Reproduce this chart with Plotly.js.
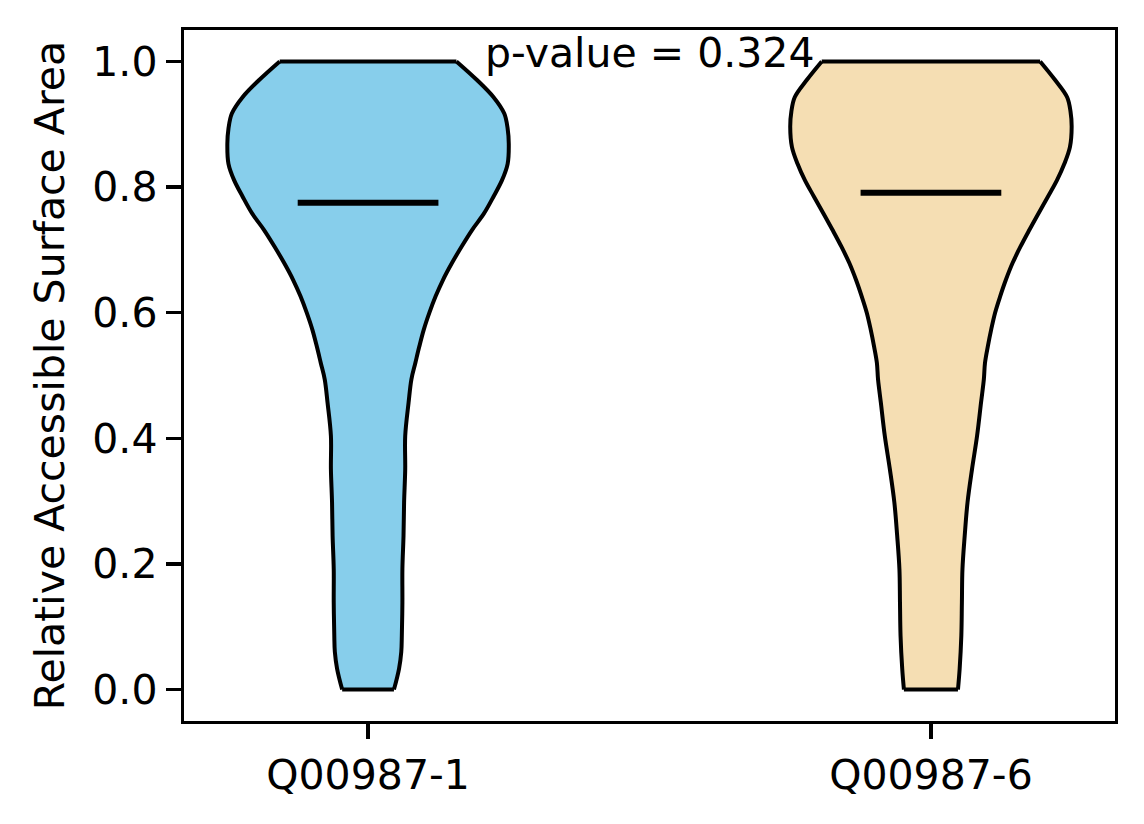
<!DOCTYPE html>
<html>
<head>
<meta charset="utf-8">
<script src="https://cdn.plot.ly/plotly-3.0.1.min.js"></script>
<style>html,body{margin:0;padding:0;background:#fff;}#chart{width:1144px;height:824px;}</style>
</head>
<body>
<div id="chart"></div>
<script>
// Categories and tick labels
const categories = ["Q00987-1", "Q00987-6"];
const positions = [1, 2];

// Violin density profiles (half-width in x-axis units at each y level)
const yLevels1 = [0.0, 0.033, 0.060, 0.086, 0.139, 0.192, 0.245, 0.298, 0.351, 0.404, 0.457, 0.494, 0.520, 0.546, 0.573, 0.600, 0.626, 0.652, 0.679, 0.705, 0.732, 0.758, 0.785, 0.811, 0.837, 0.869, 0.893, 0.917, 0.943, 0.970, 1.0];
const halfWidth1 = [0.046, 0.055, 0.059, 0.060, 0.061, 0.061, 0.063, 0.064, 0.066, 0.066, 0.072, 0.077, 0.084, 0.091, 0.099, 0.109, 0.120, 0.133, 0.149, 0.166, 0.185, 0.206, 0.223, 0.238, 0.248, 0.250, 0.248, 0.242, 0.223, 0.194, 0.157];

const yLevels2 = [0.0, 0.033, 0.086, 0.139, 0.192, 0.245, 0.298, 0.351, 0.404, 0.457, 0.494, 0.520, 0.546, 0.573, 0.600, 0.626, 0.652, 0.679, 0.705, 0.732, 0.758, 0.785, 0.811, 0.837, 0.864, 0.896, 0.920, 0.943, 0.970, 1.0];
const halfWidth2 = [0.048, 0.051, 0.054, 0.055, 0.056, 0.060, 0.065, 0.073, 0.082, 0.089, 0.094, 0.096, 0.101, 0.107, 0.114, 0.123, 0.133, 0.145, 0.159, 0.175, 0.191, 0.208, 0.224, 0.237, 0.247, 0.250, 0.248, 0.242, 0.221, 0.194];

// Medians
const medians = [0.775, 0.791];

// Annotation
const pValueText = "p-value = 0.324";

const profiles = [
  {y: yLevels1, hw: halfWidth1},
  {y: yLevels2, hw: halfWidth2}
];
const fills = ["#87CEEB", "#F5DEB3"];
const medianHalfSpan = 0.125;

const traces = [];
profiles.forEach((p, i) => {
  const c = positions[i];
  const n = p.y.length;
  // closed body fill
  const xs = [], ys = [];
  for (let k = 0; k < n; k++) { xs.push(c + p.hw[k]); ys.push(p.y[k]); }
  for (let k = n - 1; k >= 0; k--) { xs.push(c - p.hw[k]); ys.push(p.y[k]); }
  xs.push(xs[0]); ys.push(ys[0]);
  traces.push({
    type: "scatter", mode: "lines", x: xs, y: ys,
    fill: "toself", fillcolor: fills[i],
    line: {color: "rgba(0,0,0,0)", width: 0},
    hoverinfo: "skip", showlegend: false
  });
  // right and left outlines (smooth)
  const rx = [], ry = [], lx = [], ly = [];
  for (let k = 0; k < n; k++) {
    rx.push(c + p.hw[k]); ry.push(p.y[k]);
    lx.push(c - p.hw[k]); ly.push(p.y[k]);
  }
  [[rx, ry], [lx, ly]].forEach(([ax, ay]) => traces.push({
    type: "scatter", mode: "lines", x: ax, y: ay,
    line: {color: "black", width: 4, shape: "spline", smoothing: 1},
    hoverinfo: "skip", showlegend: false
  }));
  // flat top and bottom edges
  [0, n - 1].forEach(k => traces.push({
    type: "scatter", mode: "lines",
    x: [c - p.hw[k], c + p.hw[k]], y: [p.y[k], p.y[k]],
    line: {color: "black", width: 4},
    hoverinfo: "skip", showlegend: false
  }));
});
medians.forEach((m, i) => {
  traces.push({
    type: "scatter", mode: "lines",
    x: [positions[i] - medianHalfSpan, positions[i] + medianHalfSpan],
    y: [m, m],
    line: {color: "black", width: 6},
    hoverinfo: "skip", showlegend: false
  });
});

const font = {family: "DejaVu Sans, sans-serif", size: 41, color: "black"};
const layout = {
  width: 1144, height: 824,
  margin: {l: 184, r: 29, t: 30, b: 103, pad: 0},
  paper_bgcolor: "white", plot_bgcolor: "white",
  font: font,
  showlegend: false,
  xaxis: {
    range: [0.673, 2.327],
    tickmode: "array", tickvals: positions, ticktext: categories,
    showgrid: false, zeroline: false,
    showline: true, linecolor: "black", linewidth: 3.3, mirror: true,
    ticks: "outside", ticklen: 15, tickwidth: 3.3, tickcolor: "black",
    tickfont: font
  },
  yaxis: {
    range: [-0.05, 1.05],
    tickmode: "array", tickvals: [0, 0.2, 0.4, 0.6, 0.8, 1.0],
    tickformat: ".1f",
    showgrid: false, zeroline: false,
    showline: true, linecolor: "black", linewidth: 3.3, mirror: true,
    ticks: "outside", ticklen: 15, tickwidth: 3.3, tickcolor: "black",
    tickfont: font,
    title: {text: "Relative Accessible Surface Area", font: font, standoff: 16}
  },
  annotations: [{
    x: 1.5, y: 1.013, xref: "x", yref: "y",
    text: pValueText, showarrow: false,
    xanchor: "center", yanchor: "middle",
    font: font
  }]
};

Plotly.newPlot("chart", traces, layout, {displayModeBar: false, staticPlot: true});
</script>
</body>
</html>
